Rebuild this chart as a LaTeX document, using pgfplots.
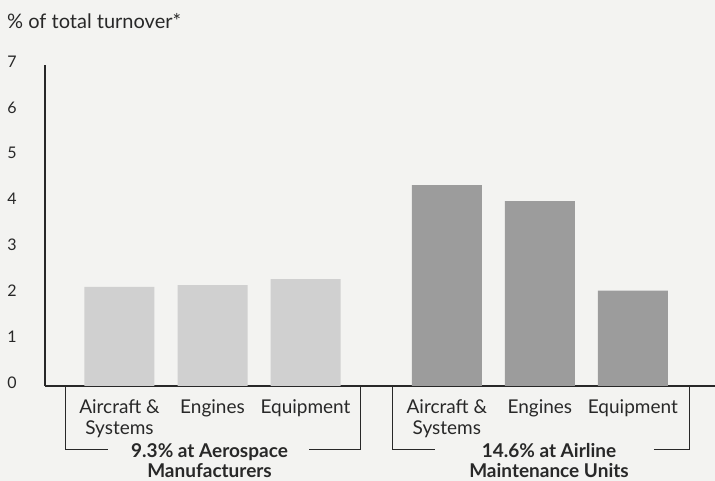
\documentclass[border=0pt]{standalone}
\usepackage{fontspec}
\setmainfont{Lato}
\usepackage{pgfplots}
\pgfplotsset{compat=1.18}
\definecolor{paper}{RGB}{243,243,241}
\definecolor{lightbar}{RGB}{208,208,208}
\definecolor{darkbar}{RGB}{156,156,156}
\definecolor{ink}{RGB}{40,40,40}
\tikzset{grouplabel/.style={anchor=base, inner sep=0pt, text height=13pt, text depth=3pt,
  text=ink, font=\bfseries\fontsize{19}{21}\selectfont}}
\begin{document}
\begin{tikzpicture}
\fill[paper] (0pt,0pt) rectangle (715pt,481pt);
\begin{axis}[
  at={(45pt,95pt)}, anchor=south west, scale only axis,
  width=670pt, height=321pt,
  xmin=0.199, xmax=7.403, ymin=0, ymax=7,
  axis x line*=bottom, axis y line*=left,
  axis line style={ink, line width=1.3pt},
  ytick={0,...,7}, major tick length=0pt,
  xtick={1,2,3,4.52,5.52,6.52},
  xticklabels={{Aircraft \&\\Systems},Engines,Equipment,{Aircraft \&\\Systems},Engines,Equipment},
  xticklabel style={align=center, font=\fontsize{19}{21.5}\selectfont, anchor=north, inner sep=0pt, yshift=-13pt, text=ink},
  yticklabel style={anchor=center, xshift=-33pt, yshift=3.5pt, font=\fontsize{16}{18}\selectfont, text=ink},
  /pgf/number format/assume math mode=true,
  ybar, bar width=70pt, clip=false,
]
% share of turnover by product area, aerospace manufacturers
\addplot[fill=lightbar, draw=none, bar shift=0pt] coordinates {(1,2.16) (2,2.20) (3,2.33)};
% share of turnover by product area, airline maintenance units
\addplot[fill=darkbar, draw=none, bar shift=0pt] coordinates {(4.52,4.38) (5.52,4.03) (6.52,2.08)};
% group brackets below the category labels
\draw[ink, line width=1pt] (axis cs:0.422,0) -- (axis cs:0.422,-1.374) -- (axis cs:0.876,-1.374);
\draw[ink, line width=1pt] (axis cs:3.038,-1.374) -- (axis cs:3.594,-1.374) -- (axis cs:3.594,0);
\draw[ink, line width=1pt] (axis cs:3.930,0) -- (axis cs:3.930,-1.374) -- (axis cs:4.393,-1.374);
\draw[ink, line width=1pt] (axis cs:6.747,-1.374) -- (axis cs:7.134,-1.374) -- (axis cs:7.134,0);
% group captions, one node per line
\node[grouplabel] at (axis cs:1.968,-1.560) {9.3\% at Aerospace};
\node[grouplabel] at (axis cs:1.968,-1.985) {Manufacturers};
\node[grouplabel] at (axis cs:5.618,-1.560) {14.6\% at Airline};
\node[grouplabel] at (axis cs:5.618,-1.985) {Maintenance Units};
\end{axis}
\node[anchor=west, inner sep=0pt, text=ink, font=\fontsize{20}{22}\selectfont] at (7pt,460pt) {\% of total turnover*};
\pgfresetboundingbox
\path (0pt,0pt) rectangle (715pt,481pt);
\end{tikzpicture}
\end{document}
